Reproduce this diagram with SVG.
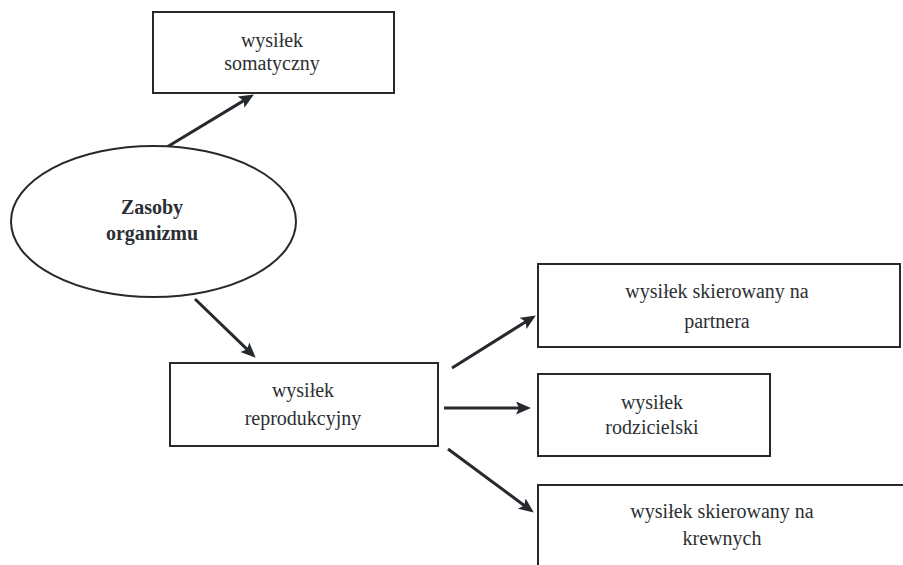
<svg xmlns="http://www.w3.org/2000/svg" width="903" height="565" viewBox="0 0 903 565">
<style>
.box{fill:#fff;stroke:#262a2e;stroke-width:2}
.t{font-family:"Liberation Serif","Times New Roman",serif;font-size:20px;fill:#2b2f33;text-anchor:middle}
.b{font-weight:bold}
.c{stroke:#262a2e;stroke-width:3;fill:none;marker-end:url(#ah)}
</style>
<defs>
<marker id="ah" markerUnits="userSpaceOnUse" markerWidth="16" markerHeight="14" refX="6" refY="6.5" orient="auto">
<path d="M0,0 L15,6.5 L0,13 L3,6.5 z" fill="#262a2e"/>
</marker>
</defs>
<rect width="903" height="565" fill="#fff"/>
<g id="connectors">
<path class="c" d="M167,147 L246.2,99.1"/>
<path class="c" d="M195,299 L249.2,351.4"/>
<path class="c" d="M452,368 L528.2,320.2"/>
<path class="c" d="M444,408 L522,408"/>
<path class="c" d="M448,449 L526.6,507.2"/>
</g>
<g id="somatyczny">
<rect class="box" x="153" y="12" width="241" height="81"/>
<text class="t" x="272" y="47">wysiłek</text>
<text class="t" x="272" y="70">somatyczny</text>
</g>
<g id="zasoby">
<ellipse class="box" cx="153.5" cy="221.5" rx="142.5" ry="75.5"/>
<text class="t b" x="152" y="214">Zasoby</text>
<text class="t b" x="152" y="240">organizmu</text>
</g>
<g id="reprodukcyjny">
<rect class="box" x="170" y="363" width="268" height="83"/>
<text class="t" x="303" y="397">wysiłek</text>
<text class="t" x="303" y="425">reprodukcyjny</text>
</g>
<g id="partner">
<rect class="box" x="538" y="264" width="362" height="83"/>
<text class="t" x="717" y="298">wysiłek skierowany na</text>
<text class="t" x="717" y="328">partnera</text>
</g>
<g id="rodzicielski">
<rect class="box" x="538" y="374" width="232" height="82"/>
<text class="t" x="652" y="409">wysiłek</text>
<text class="t" x="652" y="434">rodzicielski</text>
</g>
<g id="krewnych">
<rect class="box" x="538" y="485" width="375" height="95"/>
<text class="t" x="722" y="518">wysiłek skierowany na</text>
<text class="t" x="722" y="545">krewnych</text>
</g>
</svg>
